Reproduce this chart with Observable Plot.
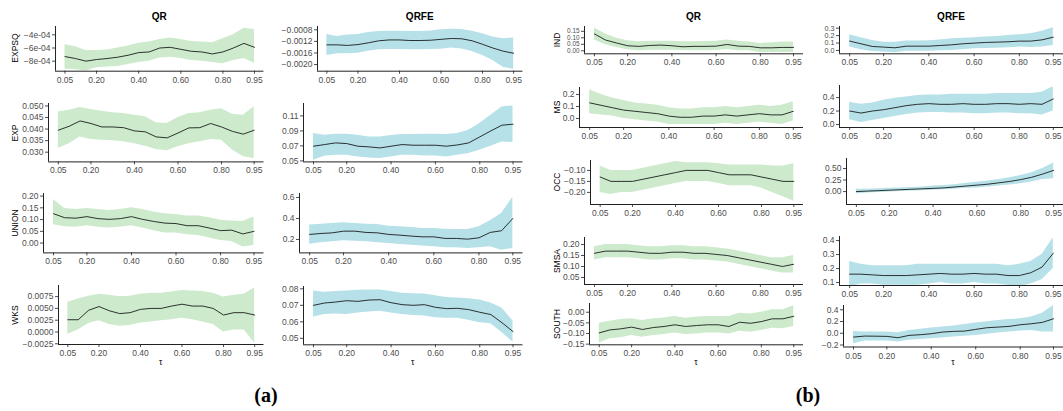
<!DOCTYPE html>
<html><head><meta charset="utf-8">
<script src="https://cdn.jsdelivr.net/npm/d3@7"></script>
<script src="https://cdn.jsdelivr.net/npm/@observablehq/plot@0.6"></script>
<style>
body{margin:0;background:#fff;}
#root{position:relative;width:1063px;height:411px;overflow:hidden;font-family:"Liberation Sans",Arial,sans-serif;background:#fff;}
#root svg{position:absolute;overflow:visible;}
.ttl{position:absolute;font-weight:bold;font-size:10px;color:#000;transform:translate(-50%,-50%);white-space:nowrap;}
.ylab{position:absolute;font-size:8.5px;color:#000;transform:translate(-50%,-50%) rotate(-90deg);white-space:nowrap;}
.xlab{position:absolute;font-size:8.5px;color:#000;transform:translate(-50%,-50%);}
.fig{position:absolute;font-family:"Liberation Serif","DejaVu Serif",serif;font-weight:bold;font-size:20px;transform:translate(-50%,-50%);}
</style></head><body><div id="root"></div>
<script>
const tau = [0.05,0.10,0.15,0.20,0.25,0.30,0.35,0.40,0.45,0.50,0.55,0.60,0.65,0.70,0.75,0.80,0.85,0.90,0.95];
const xTicks = [0.05,0.20,0.40,0.60,0.80,0.95];
const xTickLabels = ["0.05","0.20","0.40","0.60","0.80","0.95"];

// ---- (a) QR ----
const EXPSQ_QR_mid = [-7.3e-4,-7.6e-4,-8.0e-4,-7.75e-4,-7.6e-4,-7.4e-4,-7.1e-4,-6.7e-4,-6.6e-4,-6.0e-4,-5.9e-4,-6.2e-4,-6.5e-4,-6.6e-4,-6.9e-4,-6.6e-4,-6.0e-4,-5.3e-4,-5.9e-4];
const EXPSQ_QR_lo  = [-9.2e-4,-9.3e-4,-9.5e-4,-9.0e-4,-8.9e-4,-8.8e-4,-8.5e-4,-8.2e-4,-8.0e-4,-7.5e-4,-7.4e-4,-7.6e-4,-7.9e-4,-8.0e-4,-8.2e-4,-8.4e-4,-7.9e-4,-7.6e-4,-8.3e-4];
const EXPSQ_QR_hi  = [-5.5e-4,-5.8e-4,-6.4e-4,-6.4e-4,-6.3e-4,-6.0e-4,-5.7e-4,-5.3e-4,-5.1e-4,-4.7e-4,-4.5e-4,-4.7e-4,-5.0e-4,-5.1e-4,-5.2e-4,-4.6e-4,-4.0e-4,-3.0e-4,-3.2e-4];
const EXP_QR_mid = [0.0395,0.0412,0.0435,0.0424,0.0409,0.0409,0.0406,0.0392,0.0388,0.0366,0.0362,0.0383,0.0405,0.0406,0.0424,0.0409,0.0390,0.0378,0.0395];
const EXP_QR_hi  = [0.0474,0.0481,0.0493,0.0484,0.0477,0.0470,0.0467,0.0460,0.0453,0.0427,0.0424,0.0450,0.0467,0.0470,0.0481,0.0488,0.0464,0.0460,0.0496];
const EXP_QR_lo  = [0.0316,0.0337,0.0366,0.0355,0.0352,0.0349,0.0345,0.0337,0.0326,0.0312,0.0306,0.0323,0.0337,0.0345,0.0355,0.0352,0.0309,0.0280,0.0273];
const UNION_QR_mid = [0.125,0.108,0.106,0.1125,0.104,0.101,0.104,0.1125,0.101,0.092,0.085,0.083,0.074,0.074,0.064,0.053,0.055,0.039,0.050];
const UNION_QR_hi  = [0.185,0.147,0.143,0.147,0.143,0.139,0.143,0.150,0.143,0.132,0.125,0.122,0.115,0.115,0.108,0.097,0.094,0.092,0.111];
const UNION_QR_lo  = [0.078,0.069,0.067,0.074,0.067,0.064,0.067,0.074,0.064,0.053,0.043,0.043,0.035,0.032,0.022,0.011,0.007,-0.017,-0.010];
const WKS_QR_mid = [0.0026,0.0026,0.0046,0.0054,0.0045,0.0039,0.0041,0.0048,0.0050,0.0050,0.0055,0.0059,0.0055,0.0055,0.0050,0.0036,0.0041,0.0041,0.0036];
const WKS_QR_hi  = [0.0063,0.0070,0.0076,0.0080,0.0078,0.0075,0.0076,0.0080,0.0082,0.0082,0.0085,0.0088,0.0087,0.0086,0.0082,0.0074,0.0078,0.0080,0.0094];
const WKS_QR_lo  = [-0.0005,0.0004,0.0018,0.0024,0.0016,0.0012,0.0014,0.0019,0.0021,0.0024,0.0026,0.0029,0.0026,0.0021,0.0016,0.0000,0.0004,0.0004,-0.0024];

// ---- (a) QRFE ----
const EXPSQ_FE_mid = [-1.32e-3,-1.32e-3,-1.34e-3,-1.31e-3,-1.25e-3,-1.18e-3,-1.15e-3,-1.15e-3,-1.17e-3,-1.17e-3,-1.16e-3,-1.13e-3,-1.10e-3,-1.11e-3,-1.18e-3,-1.30e-3,-1.43e-3,-1.54e-3,-1.61e-3];
const EXPSQ_FE_hi  = [-0.96e-3,-1.03e-3,-0.98e-3,-0.96e-3,-0.89e-3,-0.86e-3,-0.85e-3,-0.85e-3,-0.86e-3,-0.86e-3,-0.84e-3,-0.80e-3,-0.78e-3,-0.79e-3,-0.85e-3,-0.94e-3,-1.05e-3,-1.11e-3,-1.08e-3];
const EXPSQ_FE_lo  = [-1.69e-3,-1.63e-3,-1.63e-3,-1.61e-3,-1.54e-3,-1.49e-3,-1.48e-3,-1.48e-3,-1.49e-3,-1.49e-3,-1.48e-3,-1.47e-3,-1.43e-3,-1.46e-3,-1.55e-3,-1.69e-3,-1.86e-3,-2.09e-3,-2.17e-3];
const EXP_FE_mid = [0.0696,0.0718,0.0740,0.0731,0.0696,0.0687,0.0673,0.0696,0.0718,0.0709,0.0709,0.0709,0.0696,0.0713,0.0740,0.0820,0.0900,0.0976,0.0989];
const EXP_FE_hi  = [0.0864,0.0842,0.0856,0.0856,0.0842,0.0820,0.0820,0.0838,0.0851,0.0851,0.0856,0.0856,0.0851,0.0864,0.0909,0.0998,0.1109,0.1220,0.1233];
const EXP_FE_lo  = [0.0509,0.0562,0.0576,0.0576,0.0553,0.0540,0.0531,0.0553,0.0576,0.0576,0.0567,0.0567,0.0553,0.0576,0.0598,0.0642,0.0696,0.0753,0.0744];
const UNION_FE_mid = [0.248,0.257,0.263,0.279,0.279,0.267,0.263,0.248,0.241,0.232,0.225,0.225,0.210,0.210,0.203,0.216,0.267,0.283,0.400];
const UNION_FE_hi  = [0.337,0.346,0.352,0.359,0.352,0.346,0.343,0.327,0.321,0.314,0.305,0.305,0.298,0.295,0.295,0.320,0.378,0.448,0.600];
const UNION_FE_lo  = [0.155,0.168,0.178,0.187,0.184,0.178,0.168,0.162,0.152,0.146,0.137,0.130,0.121,0.121,0.114,0.121,0.130,0.098,0.114];
const WKS_FE_mid = [0.0700,0.0714,0.0720,0.0728,0.0724,0.0732,0.0734,0.0716,0.0704,0.0700,0.0704,0.0688,0.0680,0.0682,0.0674,0.0658,0.0644,0.0595,0.0541];
const WKS_FE_hi  = [0.0787,0.0779,0.0783,0.0787,0.0791,0.0793,0.0793,0.0783,0.0773,0.0770,0.0768,0.0758,0.0748,0.0745,0.0740,0.0732,0.0714,0.0684,0.0605];
const WKS_FE_lo  = [0.0629,0.0645,0.0647,0.0645,0.0654,0.0660,0.0664,0.0654,0.0645,0.0639,0.0635,0.0625,0.0622,0.0622,0.0609,0.0595,0.0589,0.0536,0.0476];

// ---- (b) QR ----
const IND_QR_mid = [0.130,0.083,0.060,0.039,0.034,0.041,0.044,0.039,0.031,0.034,0.034,0.036,0.049,0.036,0.034,0.023,0.023,0.026,0.026];
const IND_QR_hi  = [0.176,0.130,0.096,0.078,0.070,0.073,0.073,0.073,0.070,0.070,0.072,0.073,0.083,0.073,0.067,0.057,0.062,0.067,0.067];
const IND_QR_lo  = [0.083,0.047,0.026,0.008,0.000,0.005,0.005,0.005,0.002,0.000,0.000,0.003,0.010,0.000,0.000,-0.013,-0.013,-0.013,-0.013];
const MS_QR_mid = [0.13,0.11,0.09,0.07,0.06,0.05,0.04,0.02,0.01,0.01,0.02,0.02,0.03,0.02,0.03,0.04,0.03,0.03,0.06];
const MS_QR_hi  = [0.24,0.20,0.17,0.15,0.13,0.12,0.11,0.09,0.08,0.08,0.09,0.09,0.10,0.09,0.10,0.11,0.10,0.11,0.14];
const MS_QR_lo  = [0.04,0.03,0.02,0.00,-0.01,-0.02,-0.03,-0.05,-0.05,-0.05,-0.05,-0.05,-0.04,-0.05,-0.04,-0.03,-0.04,-0.05,-0.02];
const OCC_QR_mid = [-0.13,-0.15,-0.15,-0.15,-0.14,-0.13,-0.12,-0.11,-0.10,-0.10,-0.10,-0.11,-0.12,-0.12,-0.12,-0.13,-0.14,-0.15,-0.15];
const OCC_QR_hi  = [-0.08,-0.10,-0.10,-0.10,-0.09,-0.08,-0.07,-0.06,-0.065,-0.065,-0.065,-0.07,-0.075,-0.075,-0.075,-0.075,-0.08,-0.08,-0.07];
const OCC_QR_lo  = [-0.20,-0.21,-0.20,-0.20,-0.19,-0.18,-0.17,-0.16,-0.15,-0.15,-0.15,-0.16,-0.17,-0.17,-0.17,-0.18,-0.20,-0.22,-0.24];
const SMSA_QR_mid = [0.16,0.17,0.17,0.17,0.165,0.16,0.16,0.165,0.165,0.16,0.16,0.155,0.15,0.14,0.13,0.12,0.11,0.10,0.11];
const SMSA_QR_hi  = [0.19,0.20,0.20,0.20,0.195,0.19,0.19,0.195,0.195,0.19,0.19,0.185,0.18,0.17,0.16,0.15,0.14,0.14,0.15];
const SMSA_QR_lo  = [0.13,0.14,0.14,0.14,0.135,0.13,0.13,0.135,0.135,0.13,0.13,0.125,0.12,0.11,0.10,0.09,0.08,0.07,0.07];
const SOUTH_QR_mid = [-0.097,-0.083,-0.078,-0.070,-0.081,-0.072,-0.067,-0.059,-0.067,-0.0625,-0.059,-0.059,-0.067,-0.047,-0.052,-0.044,-0.031,-0.031,-0.019];
const SOUTH_QR_hi  = [-0.052,-0.042,-0.034,-0.031,-0.039,-0.031,-0.027,-0.020,-0.028,-0.023,-0.020,-0.020,-0.020,-0.005,-0.008,0.000,0.012,0.012,0.031];
const SOUTH_QR_lo  = [-0.145,-0.125,-0.120,-0.109,-0.117,-0.109,-0.105,-0.098,-0.105,-0.102,-0.098,-0.098,-0.102,-0.089,-0.094,-0.086,-0.075,-0.078,-0.067];

// ---- (b) QRFE ----
const IND_FE_mid = [0.126,0.090,0.054,0.045,0.036,0.058,0.058,0.058,0.067,0.076,0.090,0.099,0.108,0.112,0.117,0.126,0.126,0.143,0.179];
const IND_FE_hi  = [0.211,0.170,0.135,0.112,0.112,0.126,0.126,0.130,0.140,0.157,0.165,0.170,0.180,0.188,0.200,0.211,0.224,0.260,0.305];
const IND_FE_lo  = [0.045,0.009,-0.013,-0.022,-0.031,-0.009,-0.009,-0.009,-0.005,0.000,0.010,0.022,0.027,0.031,0.038,0.045,0.040,0.045,0.067];
const MS_FE_mid = [0.20,0.17,0.20,0.22,0.25,0.28,0.30,0.31,0.30,0.30,0.31,0.30,0.30,0.31,0.31,0.30,0.31,0.30,0.38];
const MS_FE_hi  = [0.33,0.30,0.32,0.36,0.39,0.41,0.43,0.44,0.44,0.45,0.45,0.45,0.45,0.46,0.46,0.46,0.46,0.48,0.56];
const MS_FE_lo  = [0.07,0.03,0.06,0.09,0.12,0.15,0.17,0.18,0.18,0.17,0.17,0.16,0.16,0.17,0.17,0.16,0.16,0.14,0.20];
const OCC_FE_mid = [0.00,0.01,0.02,0.03,0.04,0.05,0.06,0.07,0.08,0.10,0.12,0.14,0.16,0.19,0.22,0.26,0.31,0.38,0.46];
const OCC_FE_hi  = [0.05,0.05,0.06,0.07,0.08,0.09,0.10,0.12,0.13,0.15,0.18,0.20,0.23,0.26,0.30,0.35,0.41,0.50,0.62];
const OCC_FE_lo  = [-0.05,-0.03,-0.02,-0.01,0.00,0.01,0.02,0.03,0.04,0.05,0.07,0.08,0.10,0.12,0.14,0.17,0.21,0.26,0.28];
const SMSA_FE_mid = [0.16,0.16,0.155,0.15,0.15,0.15,0.155,0.16,0.165,0.16,0.16,0.165,0.16,0.16,0.15,0.15,0.17,0.21,0.31];
const SMSA_FE_hi  = [0.25,0.23,0.22,0.22,0.22,0.22,0.23,0.23,0.23,0.23,0.23,0.23,0.23,0.23,0.22,0.23,0.25,0.30,0.42];
const SMSA_FE_lo  = [0.07,0.09,0.09,0.08,0.08,0.08,0.08,0.09,0.10,0.09,0.09,0.10,0.09,0.09,0.08,0.07,0.09,0.12,0.20];
const SOUTH_FE_mid = [-0.065,-0.048,-0.050,-0.053,-0.076,-0.036,-0.025,-0.008,0.020,0.032,0.037,0.066,0.094,0.105,0.117,0.145,0.162,0.185,0.247];
const SOUTH_FE_hi  = [0.032,0.020,0.020,0.020,0.009,0.049,0.068,0.088,0.105,0.122,0.150,0.173,0.196,0.219,0.233,0.247,0.275,0.343,0.474];
const SOUTH_FE_lo  = [-0.178,-0.133,-0.133,-0.133,-0.150,-0.121,-0.107,-0.093,-0.079,-0.065,-0.050,-0.036,-0.017,0.003,0.020,0.037,0.049,0.020,0.020];

// ---- y tick values and labels ----
const M = "\u2212";
const yt = {
  EXPSQ_QR: [[-8e-4,-6e-4,-4e-4],[M+"8e-04",M+"6e-04",M+"4e-04"]],
  EXP_QR: [[0.030,0.035,0.040,0.045,0.050],["0.030","0.035","0.040","0.045","0.050"]],
  UNION_QR: [[0,0.05,0.10,0.15,0.20],["0.00","0.05","0.10","0.15","0.20"]],
  WKS_QR: [[-0.0025,0,0.0025,0.005,0.0075],[M+"0.0025","0.0000","0.0025","0.0050","0.0075"]],
  EXPSQ_FE: [[-0.002,-0.0016,-0.0012,-0.0008],[M+"0.0020",M+"0.0016",M+"0.0012",M+"0.0008"]],
  EXP_FE: [[0.05,0.07,0.09,0.11],["0.05","0.07","0.09","0.11"]],
  UNION_FE: [[0.2,0.4,0.6],["0.2","0.4","0.6"]],
  WKS_FE: [[0.05,0.06,0.07,0.08],["0.05","0.06","0.07","0.08"]],
  IND_QR: [[0,0.05,0.10,0.15],["0.00","0.05","0.10","0.15"]],
  MS_QR: [[0,0.1,0.2],["0.0","0.1","0.2"]],
  OCC_QR: [[-0.20,-0.15,-0.10],[M+"0.20",M+"0.15",M+"0.10"]],
  SMSA_QR: [[0.05,0.10,0.15,0.20],["0.05","0.10","0.15","0.20"]],
  SOUTH_QR: [[-0.15,-0.10,-0.05,0],[M+"0.15",M+"0.10",M+"0.05","0.00"]],
  IND_FE: [[0,0.1,0.2,0.3],["0.0","0.1","0.2","0.3"]],
  MS_FE: [[0,0.2,0.4],["0.0","0.2","0.4"]],
  OCC_FE: [[0,0.25,0.5],["0.00","0.25","0.50"]],
  SMSA_FE: [[0.1,0.2,0.3,0.4],["0.1","0.2","0.3","0.4"]],
  SOUTH_FE: [[-0.2,0,0.2,0.4],[M+"0.2","0.0","0.2","0.4"]]
};

// ---- layout (frame edges in page pixels), y domains, tick font size ----
const layout = [
  {k:"EXPSQ_QR", d:[EXPSQ_QR_mid,EXPSQ_QR_lo,EXPSQ_QR_hi], x0:55, x1:263.5, y0:26, y1:70.7, dom:[-9.52e-4,-2.74e-4], lab:"EXPSQ", ylx:15},
  {k:"EXP_QR", d:[EXP_QR_mid,EXP_QR_lo,EXP_QR_hi], x0:48, x1:263.5, y0:103.3, y1:161.7, dom:[0.02581,0.05104], lab:"EXP", ylx:15},
  {k:"UNION_QR", d:[UNION_QR_mid,UNION_QR_lo,UNION_QR_hi], x0:43, x1:263.5, y0:193.3, y1:252.7, dom:[-0.0417,0.211], lab:"UNION", ylx:15},
  {k:"WKS_QR", d:[WKS_QR_mid,WKS_QR_lo,WKS_QR_hi], x0:58, x1:263.5, y0:285, y1:344, dom:[-0.00265,0.00986], lab:"WKS", ylx:15, tau:true},
  {k:"EXPSQ_FE", d:[EXPSQ_FE_mid,EXPSQ_FE_lo,EXPSQ_FE_hi], x0:317, x1:522.5, y0:26, y1:70.7, dom:[-0.00223,-0.000686]},
  {k:"EXP_FE", d:[EXP_FE_mid,EXP_FE_lo,EXP_FE_hi], x0:303, x1:522.5, y0:103.3, y1:161.7, dom:[0.0487,0.1265]},
  {k:"UNION_FE", d:[UNION_FE_mid,UNION_FE_lo,UNION_FE_hi], x0:299, x1:522.5, y0:193.3, y1:252.7, dom:[0.072,0.638]},
  {k:"WKS_FE", d:[WKS_FE_mid,WKS_FE_lo,WKS_FE_hi], x0:303, x1:522.5, y0:286, y1:344.3, dom:[0.0461,0.0814], tau:true},
  {k:"IND_QR", d:[IND_QR_mid,IND_QR_lo,IND_QR_hi], x0:584, x1:803, y0:26, y1:53.3, dom:[-0.023,0.187], lab:"IND", ylx:557, fs:"6.4px"},
  {k:"MS_QR", d:[MS_QR_mid,MS_QR_lo,MS_QR_hi], x0:579, x1:803, y0:87, y1:127, dom:[-0.075,0.258], lab:"MS", ylx:557},
  {k:"OCC_QR", d:[OCC_QR_mid,OCC_QR_lo,OCC_QR_hi], x0:590, x1:803, y0:160, y1:204, dom:[-0.255,-0.055], lab:"OCC", ylx:557},
  {k:"SMSA_QR", d:[SMSA_QR_mid,SMSA_QR_lo,SMSA_QR_hi], x0:584, x1:803, y0:237, y1:284, dom:[0.018,0.232], lab:"SMSA", ylx:557},
  {k:"SOUTH_QR", d:[SOUTH_QR_mid,SOUTH_QR_lo,SOUTH_QR_hi], x0:589, x1:803, y0:303, y1:344.3, dom:[-0.153,0.041], lab:"SOUTH", ylx:557, tau:true},
  {k:"IND_FE", d:[IND_FE_mid,IND_FE_lo,IND_FE_hi], x0:839, x1:1063, y0:26, y1:53.3, dom:[-0.045,0.323], fs:"7.2px"},
  {k:"MS_FE", d:[MS_FE_mid,MS_FE_lo,MS_FE_hi], x0:839, x1:1063, y0:85, y1:127, dom:[-0.045,0.58]},
  {k:"OCC_FE", d:[OCC_FE_mid,OCC_FE_lo,OCC_FE_hi], x0:846, x1:1063, y0:158, y1:204, dom:[-0.28,0.717]},
  {k:"SMSA_FE", d:[SMSA_FE_mid,SMSA_FE_lo,SMSA_FE_hi], x0:839, x1:1063, y0:236, y1:285, dom:[0.079,0.429]},
  {k:"SOUTH_FE", d:[SOUTH_FE_mid,SOUTH_FE_lo,SOUTH_FE_hi], x0:843, x1:1063, y0:305, y1:346.5, dom:[-0.234,0.473], tau:true}
];

const titles = [
  {t:"QR", k:"EXPSQ_QR"}, {t:"QRFE", k:"EXPSQ_FE"}, {t:"QR", k:"IND_QR"}, {t:"QRFE", k:"IND_FE"}
];

const root = document.getElementById("root");
const ML = 46, MR = 4, MT = 3, MB = 18;
const xFmt = d => xTickLabels[xTicks.indexOf(d)] ?? "";

for (const p of layout) {
  const isQR = p.k.endsWith("_QR");
  const [mid, lo, hi] = p.d;
  const rows = tau.map((t, i) => ({t, m: mid[i], lo: lo[i], hi: hi[i]}));
  const [yv, yl] = yt[p.k];
  const w = p.x1 - p.x0, h = p.y1 - p.y0;
  const svg = Plot.plot({
    width: w + ML + MR, height: h + MT + MB,
    marginLeft: ML, marginRight: MR, marginTop: MT, marginBottom: MB,
    style: {fontFamily: "'Liberation Sans', Arial, sans-serif", fontSize: "8.5px", color: "#4d4d4d", background: "transparent", overflow: "visible"},
    x: {domain: [0.005, 0.995], ticks: xTicks, tickFormat: xFmt, tickSize: 3, tickPadding: 2.5, label: null},
    y: {domain: p.dom, ticks: yv, tickFormat: d => yl[yv.indexOf(d)] ?? "", tickSize: 3, tickPadding: 2, label: null},
    marks: [
      Plot.areaY(rows, {x: "t", y1: "lo", y2: "hi", fill: isQR ? "#cdeacd" : "#b7e1e8", clip: true}),
      Plot.lineY(rows, {x: "t", y: "m", stroke: "#111", strokeWidth: 0.85, clip: true}),
      Plot.ruleX([0.005], {stroke: "#222", strokeWidth: 1}),
      Plot.ruleY([p.dom[0]], {stroke: "#222", strokeWidth: 1})
    ]
  });
  if (p.fs) {
    svg.querySelectorAll("[aria-label='y-axis tick label'] text").forEach(t => t.style.fontSize = p.fs);
  }
  svg.style.left = (p.x0 - ML) + "px";
  svg.style.top = (p.y0 - MT) + "px";
  root.appendChild(svg);
  p.cx = (p.x0 + p.x1) / 2;
  if (p.lab) {
    const d = document.createElement("div");
    d.className = "ylab"; d.textContent = p.lab;
    d.style.left = p.ylx + "px"; d.style.top = ((p.y0 + p.y1) / 2) + "px";
    root.appendChild(d);
  }
  if (p.tau) {
    const d = document.createElement("div");
    d.className = "xlab"; d.textContent = "\u03c4";
    d.style.left = ((p.x0 + p.x1) / 2) + "px"; d.style.top = "362px";
    root.appendChild(d);
  }
}
for (const t of titles) {
  const p = layout.find(q => q.k === t.k);
  const d = document.createElement("div");
  d.className = "ttl"; d.textContent = t.t;
  d.style.left = p.cx + "px"; d.style.top = "16px";
  root.appendChild(d);
}
for (const [txt, x] of [["(a)", 266], ["(b)", 808]]) {
  const d = document.createElement("div");
  d.className = "fig"; d.textContent = txt;
  d.style.left = x + "px"; d.style.top = "395px";
  root.appendChild(d);
}
</script></body></html>
